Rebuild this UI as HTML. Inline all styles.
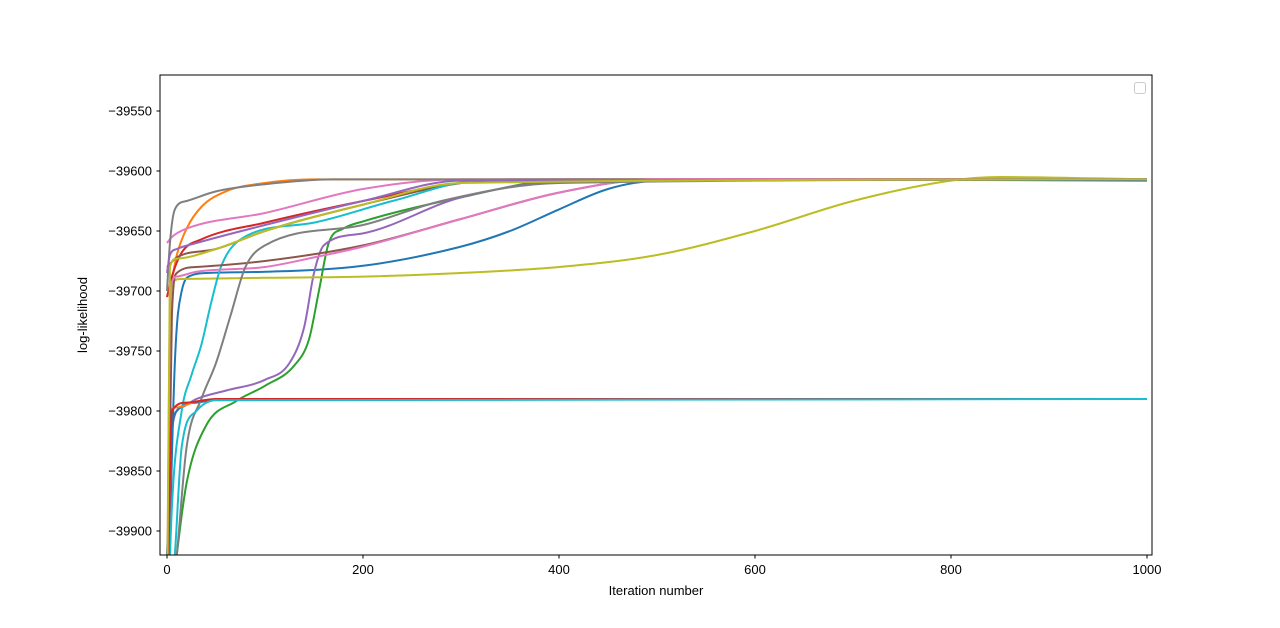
<!DOCTYPE html>
<html><head><meta charset="utf-8"><style>
body{margin:0;background:#fff;}
svg text{font-family:"Liberation Sans","DejaVu Sans",sans-serif;font-size:13px;fill:#000;}
</style></head><body>
<svg id="chart" width="1280" height="623" xmlns="http://www.w3.org/2000/svg">
<defs><clipPath id="clip"><rect x="160" y="75" width="992" height="480"/></clipPath></defs>
<rect x="0" y="0" width="1280" height="623" fill="#fff"/>
<g id="series" clip-path="url(#clip)"></g>
<rect x="160" y="75" width="992" height="480" fill="none" stroke="#000" stroke-width="1"/>
<g id="xticks"></g><g id="yticks"></g>
<text x="656" y="595" text-anchor="middle">Iteration number</text>
<text transform="translate(87,315) rotate(-90)" text-anchor="middle">log-likelihood</text>
<rect x="1134.5" y="82.5" width="11" height="11" rx="2" fill="#fff" stroke="#ccc"/>
</svg>
<script>
const xTickValues=[0,200,400,600,800,1000];
const yTickValues=[-39550,-39600,-39650,-39700,-39750,-39800,-39850,-39900];
const colors=["#1f77b4","#ff7f0e","#2ca02c","#d62728","#9467bd","#8c564b","#e377c2","#7f7f7f","#bcbd22","#17becf","#1f77b4","#ff7f0e","#8c564b","#e377c2","#7f7f7f","#d62728","#9467bd","#bcbd22","#17becf"];
const iters1=[0,8,15,25,40,100,200,300,350,400,450,500,600,1000];
const vals1=[-40000,-39760,-39700,-39687,-39685,-39684,-39679,-39663,-39650,-39632,-39615,-39608,-39607,-39608];
const iters2=[0,5,10,20,35,60,100,150,1000];
const vals2=[-39705,-39690,-39670,-39648,-39630,-39617,-39610,-39607,-39607];
const iters3=[0,10,20,40,70,100,130,145,155,165,180,200,300,400,1000];
const vals3=[-40000,-39920,-39860,-39812,-39792,-39779,-39762,-39740,-39700,-39660,-39648,-39642,-39622,-39608,-39607];
const iters4=[0,5,15,35,100,200,300,400,1000];
const vals4=[-39705,-39688,-39668,-39657,-39643,-39625,-39610,-39607,-39607];
const iters5=[0,5,15,30,60,100,125,140,150,160,200,300,420,1000];
const vals5=[-40000,-39815,-39797,-39790,-39783,-39774,-39760,-39730,-39685,-39662,-39652,-39622,-39608,-39607];
const iters6=[0,10,50,100,200,300,350,1000];
const vals6=[-39680,-39672,-39665,-39650,-39628,-39610,-39607,-39607];
const iters7=[0,5,20,100,200,300,1000];
const vals7=[-39660,-39655,-39648,-39635,-39615,-39607,-39607];
const iters8=[0,3,8,20,50,100,170,1000];
const vals8=[-39700,-39660,-39632,-39625,-39617,-39611,-39607,-39607];
const iters9=[0,3,6,15,100,200,300,400,500,600,700,800,850,1000];
const vals9=[-40000,-39730,-39692,-39690,-39689,-39688,-39685,-39680,-39670,-39650,-39625,-39608,-39605,-39607];
const iters10=[0,5,15,25,35,45,55,75,150,230,320,1000];
const vals10=[-40000,-39880,-39800,-39770,-39745,-39710,-39680,-39657,-39643,-39625,-39608,-39607];
const iters11=[0,5,10,30,60,1000];
const vals11=[-39920,-39820,-39800,-39793,-39790,-39790];
const iters12=[0,3,10,30,60,1000];
const vals12=[-40000,-39800,-39797,-39792,-39790,-39790];
const iters13=[0,5,10,30,100,200,300,400,500,1000];
const vals13=[-40000,-39720,-39685,-39680,-39675,-39662,-39640,-39618,-39607,-39607];
const iters14=[0,3,10,30,100,150,200,300,400,500,1000];
const vals14=[-40000,-39700,-39688,-39684,-39680,-39672,-39663,-39640,-39618,-39607,-39607];
const iters15=[0,10,20,35,50,65,80,100,200,280,400,1000];
const vals15=[-40000,-39920,-39830,-39790,-39760,-39720,-39680,-39662,-39645,-39625,-39610,-39607];
const iters16=[0,5,20,50,1000];
const vals16=[-40000,-39800,-39793,-39790,-39790];
const iters17=[0,3,10,30,100,200,300,1000];
const vals17=[-39685,-39670,-39665,-39660,-39645,-39625,-39608,-39607];
const iters18=[0,3,10,50,100,200,300,1000];
const vals18=[-40000,-39680,-39673,-39665,-39650,-39628,-39610,-39607];
const iters19=[0,8,15,30,50,1000];
const vals19=[-40000,-39920,-39830,-39800,-39791,-39790];
const allIters=[iters1,iters2,iters3,iters4,iters5,iters6,iters7,iters8,iters9,iters10,iters11,iters12,iters13,iters14,iters15,iters16,iters17,iters18,iters19];
const allVals=[vals1,vals2,vals3,vals4,vals5,vals6,vals7,vals8,vals9,vals10,vals11,vals12,vals13,vals14,vals15,vals16,vals17,vals18,vals19];

const NS="http://www.w3.org/2000/svg";
function xs(it){return 167+it*0.98;}
function ys(v){return 111+(-39550-v)*1.2;}
function monotonePath(px,py){
  const n=px.length;if(n<2)return "";
  const d=[],m=new Array(n);
  for(let i=0;i<n-1;i++)d.push((py[i+1]-py[i])/(px[i+1]-px[i]));
  m[0]=d[0];m[n-1]=d[n-2];
  for(let i=1;i<n-1;i++){m[i]=(d[i-1]*d[i]<=0)?0:(d[i-1]+d[i])/2;}
  for(let i=0;i<n-1;i++){
    if(d[i]===0){m[i]=0;m[i+1]=0;continue;}
    const a=m[i]/d[i],b=m[i+1]/d[i],s=a*a+b*b;
    if(s>9){const t=3/Math.sqrt(s);m[i]=t*a*d[i];m[i+1]=t*b*d[i];}
  }
  let p="M"+px[0]+","+py[0];
  for(let i=0;i<n-1;i++){
    const h=(px[i+1]-px[i])/3;
    p+=" C"+(px[i]+h)+","+(py[i]+m[i]*h)+" "+(px[i+1]-h)+","+(py[i+1]-m[i+1]*h)+" "+px[i+1]+","+py[i+1];
  }
  return p;
}
const g=document.getElementById("series");
for(let k=0;k<allIters.length;k++){
  const px=allIters[k].map(xs),py=allVals[k].map(ys);
  const path=document.createElementNS(NS,"path");
  path.setAttribute("d",monotonePath(px,py));
  path.setAttribute("fill","none");
  path.setAttribute("stroke",colors[k]);
  path.setAttribute("stroke-width","2");
  
  
  g.appendChild(path);
}
const xt=document.getElementById("xticks");
for(const v of xTickValues){
  const x=xs(v);
  const l=document.createElementNS(NS,"line");
  l.setAttribute("x1",x);l.setAttribute("x2",x);l.setAttribute("y1",555);l.setAttribute("y2",558.5);l.setAttribute("stroke","#000");
  
  
  xt.appendChild(l);
  const t=document.createElementNS(NS,"text");
  t.setAttribute("x",x);t.setAttribute("y",574);t.setAttribute("text-anchor","middle");t.textContent=v;
  
  
  xt.appendChild(t);
}
const yt=document.getElementById("yticks");
for(const v of yTickValues){
  const y=ys(v);
  const l=document.createElementNS(NS,"line");
  l.setAttribute("x1",156.5);l.setAttribute("x2",160);l.setAttribute("y1",y);l.setAttribute("y2",y);l.setAttribute("stroke","#000");
  
  
  yt.appendChild(l);
  const t=document.createElementNS(NS,"text");
  t.setAttribute("x",152);t.setAttribute("y",y+4.5);t.setAttribute("text-anchor","end");t.textContent="\u2212"+Math.abs(v);
  
  
  yt.appendChild(t);
}
</script>
</body></html>
